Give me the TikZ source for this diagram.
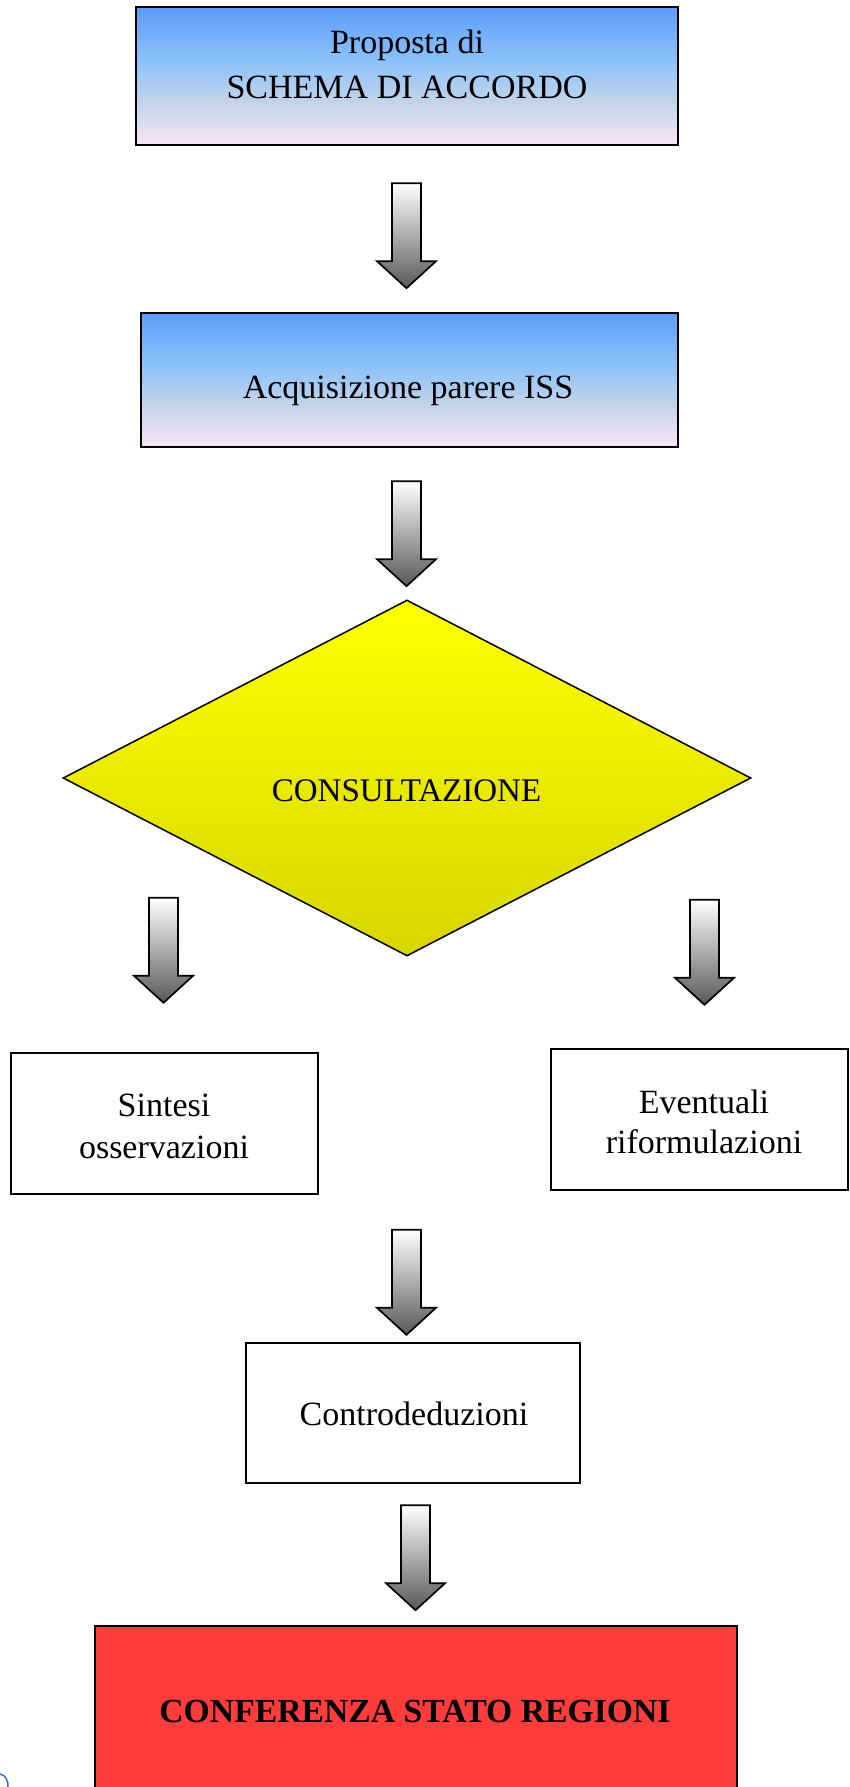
\documentclass[tikz,border=0pt]{standalone}
\usepackage{fontspec}
\setmainfont{Liberation Serif}
\usetikzlibrary{shapes.geometric,calc}
\definecolor{btop}{RGB}{92,156,249}
\definecolor{blight}{RGB}{141,195,250}
\definecolor{bgray}{RGB}{194,211,234}
\definecolor{bpink}{RGB}{247,231,246}
\definecolor{ytop}{RGB}{255,255,0}
\definecolor{ybot}{RGB}{214,214,0}
\definecolor{rside}{RGB}{255,60,60}
\definecolor{rmid}{RGB}{255,0,0}
\definecolor{atip}{RGB}{88,88,88}
\definecolor{linkblue}{RGB}{40,112,205}
\pgfdeclareverticalshading{bluegrad}{100bp}{color(0bp)=(bpink); color(25bp)=(bpink); color(41bp)=(bgray); color(55bp)=(blight); color(75bp)=(btop); color(100bp)=(btop)}
\tikzset{
  boxbase/.style={draw=black, line width=2.4pt, inner sep=0pt, rectangle},
  bluebox/.style={boxbase, shading=bluegrad},
  whitebox/.style={boxbase, fill=white},
  redbox/.style={boxbase, top color=rside, middle color=rmid, bottom color=rside},
  decision/.style={diamond, draw=black, line width=1.5pt, inner sep=0pt, top color=ytop, bottom color=ybot},
  txt/.style={font=\fontsize{34}{36}\selectfont, inner sep=0pt, anchor=base},
  arrowbody/.style={draw=black, line width=1.7pt, line join=miter, top color=white, bottom color=atip},
  pics/blockarrow/.style={code={
    \path[arrowbody] (-14.5,0) -- (14.5,0) -- (14.5,78) -- (29.5,78) -- (0,105)
      -- (-29.5,78) -- (-14.5,78) -- cycle;}}
}
\begin{document}
\begin{tikzpicture}[x=1pt, y=-1pt]
\clip (0,0) rectangle (850,1787);
\fill[white] (0,0) rectangle (850,1787);
% boxes
\node[bluebox, minimum width=542, minimum height=138] (b1) at (407,76) {};
\node[bluebox, minimum width=537, minimum height=134] (b2) at (409.5,380) {};
\node[decision, minimum width=688, minimum height=356] (dec) at (407,778) {};
\node[whitebox, minimum width=307, minimum height=141] (sin) at (164.5,1123.5) {};
\node[whitebox, minimum width=297, minimum height=141] (eve) at (699.5,1119.5) {};
\node[whitebox, minimum width=334, minimum height=140] (con) at (413,1413) {};
\node[redbox, minimum width=642, minimum height=168] (csr) at (416,1710) {};
% texts
\node[txt] (t1a) at (407,54) {Proposta di};
\node[txt] (t1b) at (407,98.5) {SCHEMA DI ACCORDO};
\node[txt] (t2) at (408,398) {Acquisizione parere ISS};
\node[txt, font=\fontsize{33}{35}\selectfont] (t3) at (406.5,801) {CONSULTAZIONE};
\node[txt] (t4a) at (164,1116.5) {Sintesi};
\node[txt] (t4b) at (164,1158.5) {osservazioni};
\node[txt] (t5a) at (704,1113) {Eventuali};
\node[txt] (t5b) at (704,1153.5) {riformulazioni};
\node[txt] (t6) at (414,1425) {Controdeduzioni};
\node[txt, font=\bfseries\fontsize{33.7}{36}\selectfont] (t7) at (415,1722) {CONFERENZA STATO REGIONI};
% block arrows
\pic (a1) at ($(b1.south)+(-0.5,37)$) {blockarrow};
\pic (a2) at ($(b2.south)+(-3,33)$) {blockarrow};
\pic (a3) at ($(sin.north)+(-1,-154)$) {blockarrow};
\pic (a4) at ($(eve.north)+(5,-148)$) {blockarrow};
\pic (a5) at ($(con.north)+(-6.5,-112)$) {blockarrow};
\pic (a6) at ($(con.south)+(2.5,21)$) {blockarrow};
% small blue fragment at lower left
\coordinate (frag) at (0,1774);
\draw[linkblue, line width=1.4pt] (frag) .. controls (6,1775) and (8.5,1781) .. (8,1788);
\end{tikzpicture}
\end{document}
